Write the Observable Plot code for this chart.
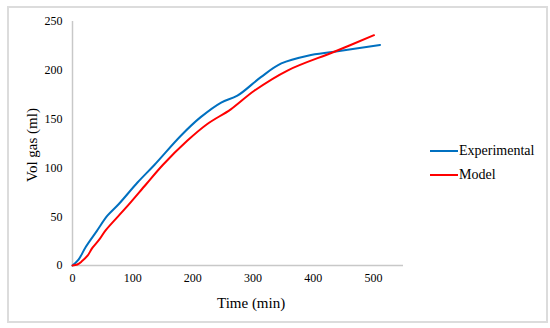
<!DOCTYPE html>
<html><head><meta charset="utf-8">
<script src="https://cdn.jsdelivr.net/npm/d3@7"></script>
<script src="https://cdn.jsdelivr.net/npm/@observablehq/plot@0.6"></script>
<style>
body{margin:0;background:#fff;font-family:"Liberation Serif","Times New Roman",Times,"DejaVu Serif",serif;}
#wrap{position:relative;width:550px;height:328px;}
#frame{position:absolute;left:7px;top:6px;width:537px;height:313px;border:2px solid #dcdcdc;pointer-events:none;}
.t{position:absolute;color:#000;font-size:15px;white-space:nowrap;font-family:"Liberation Serif","Times New Roman",serif;}
.leg{position:absolute;font-size:14px;display:flex;align-items:center;font-family:"Liberation Serif","Times New Roman",serif;}
.sw{display:inline-block;width:28px;height:2px;margin-right:1px;}
</style></head>
<body><div id="wrap"><div id="frame"></div></div>
<script>
const expTime = [0, 10, 22, 40, 58, 77, 108, 136, 180, 213, 247, 274, 313, 347, 391, 435, 511];
const expVol  = [0, 6, 19, 35, 51, 63, 85, 103, 133, 152, 167, 174, 193, 207, 215, 219, 226];
const modTime = [0, 8, 15, 25, 33, 45, 55, 90, 122, 150, 191, 224, 263, 302, 358, 435, 501];
const modVol  = [0, 1, 4, 10, 18, 27, 36, 60, 83, 103, 128, 145, 160, 179, 200, 219, 236];
const xTicks = [0, 100, 200, 300, 400, 500];
const yTicks = [0, 50, 100, 150, 200, 250];
const seriesNames = ["Experimental", "Model"];
const seriesColors = ["#0070C0", "#FF0000"];

const exp = expTime.map((t, i) => ({t, v: expVol[i], s: seriesNames[0]}));
const mod = modTime.map((t, i) => ({t, v: modVol[i], s: seriesNames[1]}));

const chart = Plot.plot({
  width: 550, height: 328,
  marginLeft: 72, marginRight: 147, marginTop: 21, marginBottom: 63,
  style: {fontFamily: "'Liberation Serif', 'Times New Roman', serif", fontSize: "12px", background: "transparent"},
  x: {domain: [0, 550]},
  y: {domain: [0, 250]},
  marks: [
    Plot.ruleY([0], {stroke: "#c8c8c8", strokeWidth: 1.5}),
    Plot.ruleX([0], {stroke: "#c8c8c8", strokeWidth: 1.5}),
    Plot.axisX({ticks: xTicks, tickSize: 0, tickPadding: 8, label: null, fill: "#000"}),
    Plot.axisY({ticks: yTicks, tickSize: 0, tickPadding: 10, label: null, fill: "#000"}),
    Plot.line(exp, {x: "t", y: "v", stroke: seriesColors[0], strokeWidth: 2, curve: "catmull-rom"}),
    Plot.line(mod, {x: "t", y: "v", stroke: seriesColors[1], strokeWidth: 2, curve: "catmull-rom"})
  ]
});
const wrap = document.getElementById("wrap");
wrap.insertBefore(chart, wrap.firstChild);

const xt = document.createElement("div");
xt.className = "t"; xt.textContent = "Time (min)";
xt.style.left = "217px"; xt.style.top = "295px";
wrap.appendChild(xt);

const yt = document.createElement("div");
yt.className = "t"; yt.textContent = "Vol gas (ml)";
yt.style.left = "32px"; yt.style.top = "145px";
yt.style.transform = "translate(-50%,-50%) rotate(-90deg)";
wrap.appendChild(yt);

seriesNames.forEach((n, i) => {
  const d = document.createElement("div");
  d.className = "leg";
  d.style.left = "430px"; d.style.top = (143 + i * 24) + "px";
  d.innerHTML = `<span class="sw" style="background:${seriesColors[i]}"></span><span>${n}</span>`;
  wrap.appendChild(d);
});
</script></body></html>
